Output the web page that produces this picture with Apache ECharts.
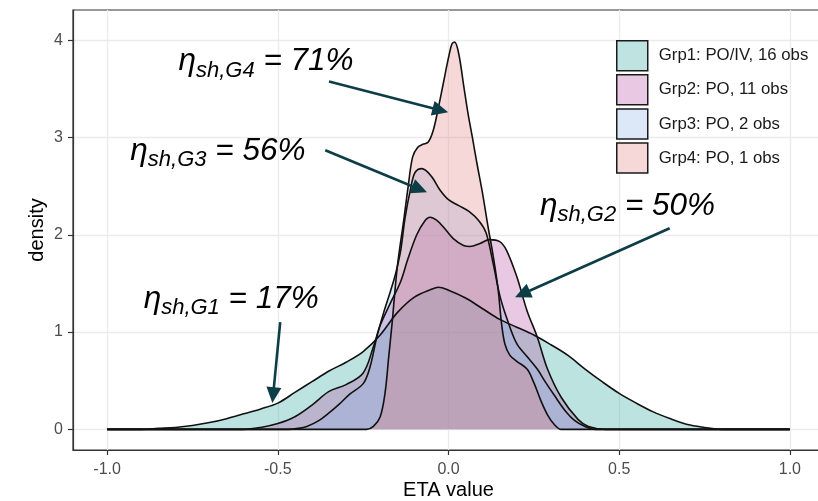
<!DOCTYPE html>
<html>
<head>
<meta charset="utf-8">
<script src="https://cdn.jsdelivr.net/npm/echarts@6/dist/echarts.min.js"></script>
<style>
  html, body { margin: 0; padding: 0; background: #fff; }
  #chart { width: 818px; height: 501px; }
</style>
</head>
<body>
<div id="chart"></div>
<script>
// legend names and fill colours (drawn with alpha 0.3 like the ggplot fill)
const groupNames = ['Grp1: PO/IV, 16 obs', 'Grp2: PO, 11 obs', 'Grp3: PO, 2 obs', 'Grp4: PO, 1 obs']
const fillRgb = [[38, 162, 152], [178, 72, 158], [138, 178, 232], [225, 125, 125]]
const fillAlpha = 0.3

// tick positions
const xTicks = [-1, -0.5, 0, 0.5, 1]
const yTicks = [0, 1, 2, 3, 4]

// density curves
const grp1X = [-1, -0.9, -0.85, -0.8, -0.75, -0.7, -0.65, -0.6, -0.55, -0.5, -0.45, -0.4, -0.35, -0.3, -0.25, -0.2, -0.15, -0.1, -0.05, -0.03, 0, 0.05, 0.1, 0.15, 0.2, 0.25, 0.3, 0.35, 0.4, 0.45, 0.5, 0.55, 0.6, 0.65, 0.7, 0.75, 0.8, 1]
const grp1Y = [0, 0, 0.01, 0.02, 0.04, 0.07, 0.11, 0.16, 0.21, 0.27, 0.38, 0.49, 0.6, 0.69, 0.8, 0.97, 1.2, 1.36, 1.44, 1.46, 1.43, 1.35, 1.24, 1.13, 1.05, 0.97, 0.87, 0.76, 0.62, 0.49, 0.37, 0.27, 0.18, 0.11, 0.05, 0.02, 0, 0]

const grp2X = [-1, -0.6, -0.55, -0.5, -0.45, -0.4, -0.35, -0.3, -0.25, -0.22, -0.2, -0.17, -0.14, -0.12, -0.093, -0.07, -0.054, -0.035, -0.015, 0.014, 0.044, 0.063, 0.092, 0.12, 0.15, 0.17, 0.2, 0.23, 0.26, 0.29, 0.33, 0.38, 0.41, 0.46, 1]
const grp2Y = [0, 0, 0.02, 0.06, 0.13, 0.25, 0.39, 0.46, 0.58, 0.85, 1.07, 1.3, 1.52, 1.74, 2.0, 2.14, 2.18, 2.15, 2.08, 1.96, 1.89, 1.88, 1.91, 1.95, 1.93, 1.84, 1.57, 1.22, 0.95, 0.62, 0.33, 0.1, 0.03, 0, 0]

const grp3X = [-1, -0.47, -0.44, -0.415, -0.38, -0.35, -0.32, -0.29, -0.25, -0.23, -0.21, -0.19, -0.17, -0.155, -0.14, -0.127, -0.11, -0.098, -0.078, -0.05, -0.025, 0, 0.03, 0.06, 0.09, 0.11, 0.13, 0.15, 0.17, 0.2, 0.23, 0.26, 0.285, 0.31, 0.34, 0.37, 0.4, 0.43, 1]
const grp3Y = [0, 0, 0.01, 0.03, 0.09, 0.17, 0.26, 0.36, 0.47, 0.64, 0.95, 1.2, 1.42, 1.6, 1.84, 2.18, 2.49, 2.64, 2.68, 2.6, 2.46, 2.36, 2.3, 2.24, 2.14, 2.02, 1.72, 1.38, 1.15, 0.88, 0.75, 0.62, 0.48, 0.35, 0.2, 0.09, 0.03, 0, 0]

const grp4X = [-1, -0.24, -0.22, -0.2, -0.186, -0.175, -0.165, -0.15, -0.13, -0.118, -0.105, -0.09, -0.075, -0.06, -0.045, -0.03, -0.015, 0, 0.01, 0.018, 0.03, 0.045, 0.057, 0.07, 0.083, 0.1, 0.115, 0.13, 0.145, 0.155, 0.165, 0.18, 0.2, 0.23, 0.25, 0.27, 0.29, 0.31, 0.33, 1]
const grp4Y = [0, 0, 0.03, 0.13, 0.37, 0.75, 1.1, 1.67, 2.18, 2.5, 2.8, 2.9, 2.93, 2.95, 3.07, 3.3, 3.56, 3.82, 3.96, 3.98, 3.86, 3.52, 3.25, 3.0, 2.74, 2.42, 2.1, 1.8, 1.45, 1.1, 0.88, 0.76, 0.7, 0.62, 0.48, 0.3, 0.15, 0.05, 0, 0]

// shrinkage annotations (data coords: left/baseline of label, arrow start and tip)
const annoSub = ['sh,G1', 'sh,G2', 'sh,G3', 'sh,G4']
const annoValue = ['17%', '50%', '56%', '71%']
const annoLabelX = [-0.893, 0.268, -0.932, -0.791]
const annoLabelY = [1.225, 2.183, 2.748, 3.668]
const arrowFromX = [-0.493, 0.648, -0.361, -0.35]
const arrowFromY = [1.102, 2.067, 2.868, 3.576]
const arrowToX = [-0.516, 0.195, -0.063, -0.001]
const arrowToY = [0.27, 1.359, 2.436, 3.258]

const FONT = '"Liberation Sans", Arial, sans-serif'
const ARROW = '#0d3d47'

const groupX = [grp1X, grp2X, grp3X, grp4X]
const groupY = [grp1Y, grp2Y, grp3Y, grp4Y]

const rgba = (c) => `rgba(${c[0]},${c[1]},${c[2]},${fillAlpha})`
const onWhite = (c) => {
    const m = c.map((v) => Math.round(255 * (1 - fillAlpha) + v * fillAlpha))
    return `rgb(${m[0]},${m[1]},${m[2]})`
}

const chart = echarts.init(document.getElementById('chart'), null, { renderer: 'canvas' })

const option = {
    animation: false,
    backgroundColor: '#fff',
    grid: {
        left: 73,
        top: 10,
        width: 751,
        height: 440,
        containLabel: false,
        outerBoundsMode: 'none',
        show: true,
        borderColor: '#333',
        borderWidth: 1.2,
    },
    legend: {
        orient: 'vertical',
        left: 616,
        top: 40,
        padding: 0,
        itemWidth: 31,
        itemHeight: 30,
        itemGap: 2.6,
        icon: 'rect',
        selectedMode: false,
        textStyle: {
            fontFamily: FONT,
            fontSize: 16.8,
            color: '#1a1a1a',
            padding: [0, 0, 0, 6],
        },
        data: groupNames.map((n, i) => ({
            name: n,
            itemStyle: {
                color: onWhite(fillRgb[i]),
                borderColor: '#1a1a1a',
                borderWidth: 1.5,
            },
        })),
    },
    xAxis: {
        type: 'value',
        min: -1.1,
        max: 1.1,
        name: 'ETA value',
        nameLocation: 'middle',
        nameGap: 30,
        nameMoveOverlap: false,
        nameTextStyle: { fontFamily: FONT, fontSize: 20, color: '#000' },
        axisLine: { show: true, onZero: false, lineStyle: { color: '#333', width: 1.2 } },
        axisTick: { show: true, length: 5, customValues: xTicks, lineStyle: { color: '#333', width: 1.2 } },
        axisLabel: {
            fontFamily: FONT,
            fontSize: 16,
            color: '#4d4d4d',
            margin: 12,
            customValues: xTicks,
            formatter: (v) => v.toFixed(1),
        },
        splitLine: { show: true, lineStyle: { color: '#ebebeb', width: 1.3 } },
    },
    yAxis: {
        type: 'value',
        min: -0.212,
        max: 4.31,
        name: 'density',
        nameLocation: 'middle',
        nameGap: 26,
        nameMoveOverlap: false,
        nameTextStyle: { fontFamily: FONT, fontSize: 20, color: '#000' },
        axisLine: { show: true, onZero: false, lineStyle: { color: '#333', width: 1.2 } },
        axisTick: { show: true, length: 5, customValues: yTicks, lineStyle: { color: '#333', width: 1.2 } },
        axisLabel: {
            fontFamily: FONT,
            fontSize: 16,
            color: '#4d4d4d',
            margin: 10,
            customValues: yTicks,
            formatter: (v) => String(v),
        },
        splitLine: { show: true, lineStyle: { color: '#ebebeb', width: 1.3 } },
    },
    series: groupNames.map((n, i) => ({
        name: n,
        type: 'line',
        data: groupX[i].map((x, j) => [x, groupY[i][j]]),
        symbol: 'none',
        smooth: 0.35,
        itemStyle: { color: onWhite(fillRgb[i]) },
        lineStyle: { color: '#111', width: 1.6 },
        areaStyle: { color: rgba(fillRgb[i]), opacity: 1 },
    })),
}

chart.setOption(option)

// arrows + labels placed through the chart's own scales
const buildAnnotations = () => {
    const els = []
    const headLen = 16
    const headHalf = 7.5
    for (let i = 0; i < annoSub.length; i++) {
        const p0 = chart.convertToPixel({ gridIndex: 0 }, [arrowFromX[i], arrowFromY[i]])
        const p1 = chart.convertToPixel({ gridIndex: 0 }, [arrowToX[i], arrowToY[i]])
        const dx = p1[0] - p0[0]
        const dy = p1[1] - p0[1]
        const len = Math.sqrt(dx * dx + dy * dy)
        const ux = dx / len
        const uy = dy / len
        const bx = p1[0] - ux * headLen
        const by = p1[1] - uy * headLen
        els.push({
            type: 'line',
            z: 100,
            shape: { x1: p0[0], y1: p0[1], x2: bx + ux * 2, y2: by + uy * 2 },
            style: { stroke: ARROW, lineWidth: 2.6 },
        })
        els.push({
            type: 'polygon',
            z: 100,
            shape: {
                points: [
                    [p1[0], p1[1]],
                    [bx - uy * headHalf, by + ux * headHalf],
                    [bx + uy * headHalf, by - ux * headHalf],
                ],
            },
            style: { fill: ARROW },
        })

        const lp = chart.convertToPixel({ gridIndex: 0 }, [annoLabelX[i], annoLabelY[i]])
        els.push({
            type: 'text',
            z: 101,
            x: lp[0],
            y: lp[1] - 10.9,
            style: {
                text: `{e|η}{s|${annoSub[i]}}{m| = ${annoValue[i]}}`,
                align: 'left',
                verticalAlign: 'middle',
                fill: '#000',
                rich: {
                    e: { fontFamily: FONT, fontSize: 31.5, fontStyle: 'italic', fill: '#000' },
                    s: { fontFamily: FONT, fontSize: 22, fontStyle: 'italic', fill: '#000', padding: [18, 0, 0, 0] },
                    m: { fontFamily: FONT, fontSize: 31.5, fontStyle: 'italic', fill: '#000' },
                },
            },
        })
    }
    return els
}

chart.setOption({ graphic: { elements: buildAnnotations() } })
</script>
</body>
</html>
